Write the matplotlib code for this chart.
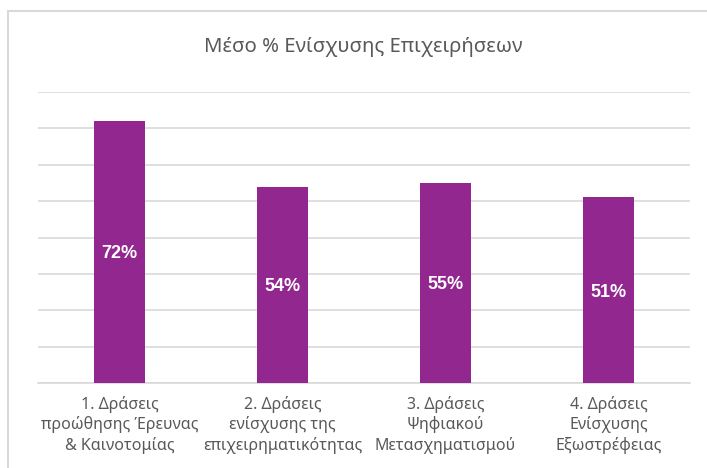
import matplotlib
matplotlib.use("Agg")
import matplotlib.pyplot as plt
import matplotlib.patches as patches

# data
categories = ["1. Δράσεις\nπροώθησης Έρευνας\n& Καινοτομίας",
              "2. Δράσεις\nενίσχυσης της\nεπιχειρηματικότητας",
              "3. Δράσεις\nΨηφιακού\nΜετασχηματισμού",
              "4. Δράσεις\nΕνίσχυσης\nΕξωστρέφειας"]
values = [0.72, 0.54, 0.55, 0.51]
title = "Μέσο % Ενίσχυσης Επιχειρήσεων"

plt.rcParams['font.family'] = ['Noto Sans', 'DejaVu Sans']
text_col = "#595959"
bar_col = "#92278F"

fig = plt.figure(figsize=(7.07, 4.68), dpi=100)
ax = fig.add_axes([38/707, 1 - 383/468, (690-38)/707, (383-92)/468])

x = range(len(categories))
bars = ax.bar(x, values, width=0.31, color=bar_col, zorder=3)
for b, v in zip(bars, values):
    ax.text(b.get_x() + b.get_width()/2, v/2 - 0.005, f"{v:.0%}", ha="center", va="center",
            color="white", fontsize=13, fontweight="bold",
            family=["Liberation Sans", "DejaVu Sans"], zorder=4)

ax.set_xlim(-0.5, len(categories) - 0.5)
ax.set_ylim(0, 0.8)
ax.set_yticks([i/10 for i in range(9)])
ax.yaxis.grid(True, color="#D9D9D9", linewidth=1.2, zorder=0)
ax.tick_params(axis="y", left=False, labelleft=False)
ax.tick_params(axis="x", bottom=False, pad=6)
ax.set_xticks(list(x))
ax.set_xticklabels(categories, fontsize=11.5, color=text_col, linespacing=1.25)
for s in ["top", "right", "left"]:
    ax.spines[s].set_visible(False)
ax.spines["bottom"].set_color("#D9D9D9")
ax.spines["bottom"].set_linewidth(1.2)

fig.text(363/707, 1 - 47/468, title, ha="center", va="center", fontsize=14.6, color=text_col)

# chart area border (runs off the right and bottom edge)
fig.patches.append(patches.Rectangle((8/707, -0.1), 1.1, 1 - 11/468 + 0.1,
                                     transform=fig.transFigure, fill=False,
                                     edgecolor="#D9D9D9", linewidth=1.5))

fig.savefig("out.png", dpi=100)
